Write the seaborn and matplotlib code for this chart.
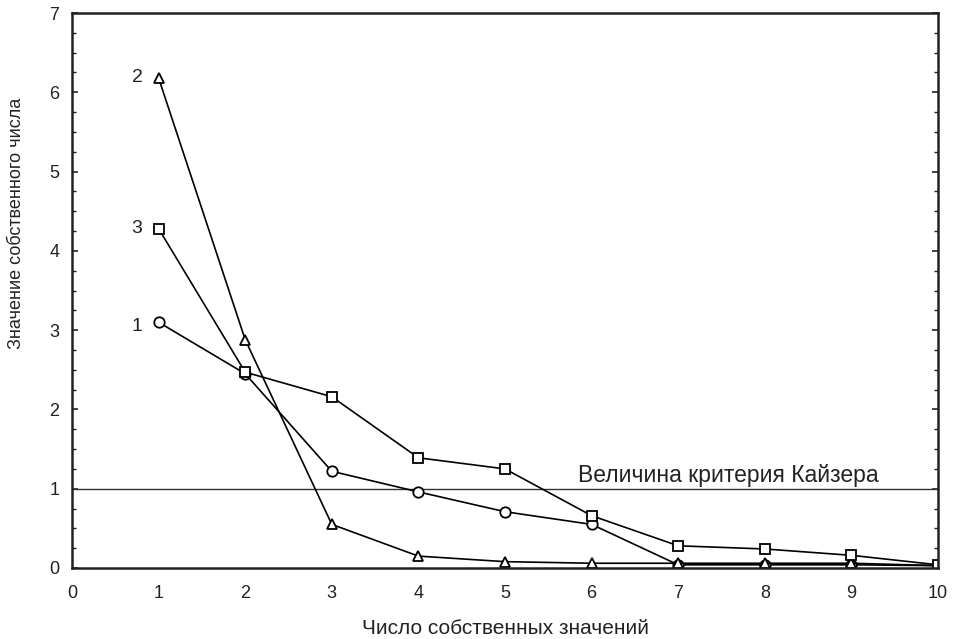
import numpy as np
import pandas as pd
import matplotlib
matplotlib.use("Agg")
import matplotlib.pyplot as plt
import seaborn as sns
from matplotlib.ticker import MultipleLocator

components = [1, 2, 3, 4, 5, 6, 7, 8, 9, 10]
series1 = [3.10, 2.45, 1.22, 0.96, 0.71, 0.55, 0.04, 0.04, 0.04, 0.03]
series2 = [6.18, 2.88, 0.55, 0.15, 0.08, 0.06, 0.06, 0.06, 0.06, 0.03]
series3 = [4.28, 2.47, 2.16, 1.39, 1.25, 0.66, 0.28, 0.24, 0.16, 0.04]
series_names = ["1", "2", "3"]
kaiser = 1.0
x_ticks = list(range(0, 11))
y_ticks = list(range(0, 8))

df = pd.DataFrame({
    "x": components * 3,
    "y": series1 + series2 + series3,
    "s": [series_names[0]] * 10 + [series_names[1]] * 10 + [series_names[2]] * 10,
})

sns.set_theme(style="white")
plt.rcParams["font.family"] = ["Liberation Sans", "DejaVu Sans"]

fig = plt.figure(figsize=(9.59, 6.39), dpi=100)
ax = fig.add_axes([72 / 959, 1 - 568 / 639, (938 - 72) / 959, (568 - 13) / 639])

ax.axhline(kaiser, color="#333333", lw=1.0, zorder=1)

markers = {"1": "o", "2": "^", "3": "s"}
sizes = {"1": 7.5, "2": 7.0, "3": 7.5}
for i, name in enumerate(series_names):
    sub = df[df["s"] == name]
    sns.lineplot(data=sub, x="x", y="y", marker=markers[name],
                 color="black", lw=1.2, markersize=sizes[name],
                 markerfacecolor="white", markeredgecolor="black", markeredgewidth=1.3,
                 legend=False, ax=ax, zorder=3 + i)

ax.set_xlim(0, 10)
ax.set_ylim(0, 7)
ax.set_xticks(x_ticks)
ax.set_yticks(y_ticks)
ax.yaxis.set_minor_locator(MultipleLocator(0.25))
ax.tick_params(axis="both", which="both", direction="in", color="#222222",
               labelsize=13, labelcolor="#222222")
ax.tick_params(axis="y", which="major", length=4, width=1.2, right=True, left=True, pad=9)
ax.tick_params(axis="y", which="minor", length=3, width=1.0, right=True, left=True)
ax.tick_params(axis="x", which="major", length=4, width=1.0, pad=12)
for sp in ax.spines.values():
    sp.set_color("#222222")
    sp.set_linewidth(1.8)
    sp.set_zorder(10)
ax.set_xlabel("")
ax.set_ylabel("")

ax.text(5.84, 1.08, "Величина критерия Кайзера", fontsize=16.5, color="#222222",
        va="baseline")
ax.text(0.75, 6.19, "2", fontsize=14, color="#222222", ha="center", va="center")
ax.text(0.75, 4.28, "3", fontsize=14, color="#222222", ha="center", va="center")
ax.text(0.75, 3.04, "1", fontsize=14, color="#222222", ha="center", va="center")

fig.text(17 / 959, 1 - 223 / 639, "Значение собственного числа", rotation=90,
         ha="center", va="center", fontsize=13, color="#222222")
fig.text(505 / 959, 1 - 628 / 639, "Число собственных значений",
         ha="center", va="center", fontsize=15, color="#222222")

fig.savefig("out.png", dpi=100)
